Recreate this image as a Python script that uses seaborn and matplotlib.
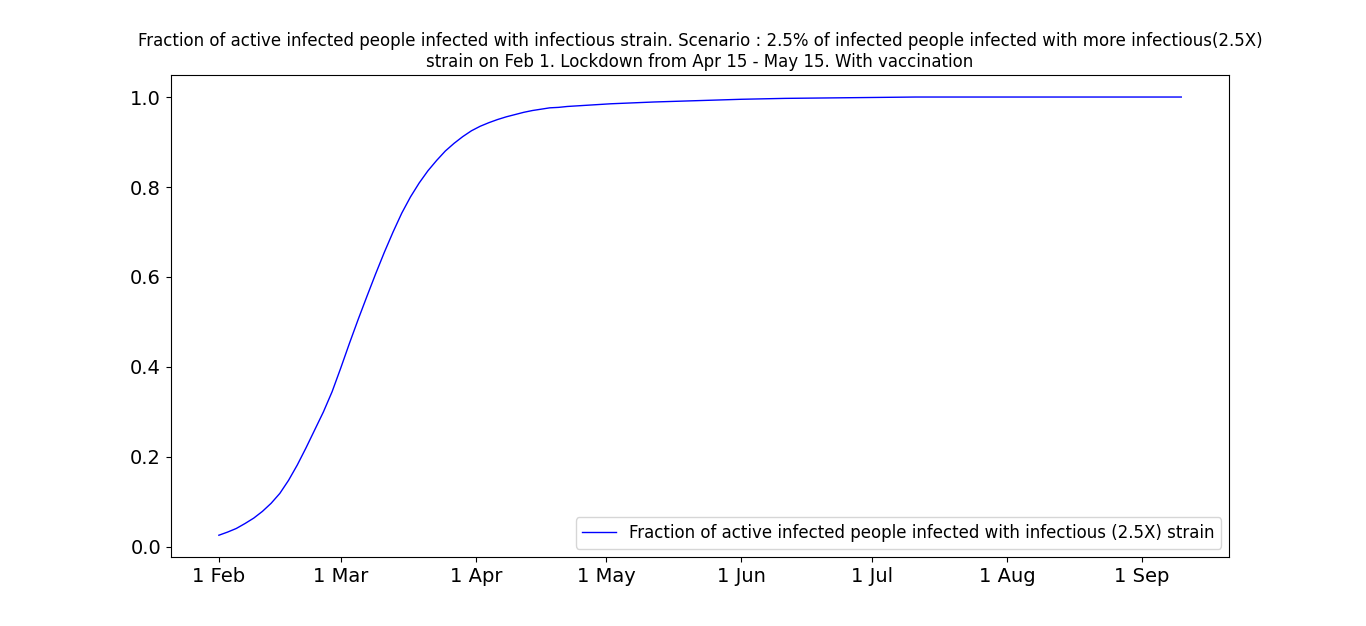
import matplotlib
matplotlib.use("Agg")
import matplotlib.pyplot as plt
import matplotlib.dates as mdates
import numpy as np
import pandas as pd
import seaborn as sns

start_date = "2021-02-01"
day_offsets = [0, 2, 4, 6, 8, 10, 12, 14, 16, 18, 20, 22, 24, 26, 28, 30, 32, 34, 36,
               38, 40, 42, 44, 46, 48, 50, 52, 54, 56, 58, 60, 62, 64, 66, 68, 70, 72,
               74, 76, 78, 80, 85, 90, 95, 100, 110, 120, 130, 140, 150, 160, 180,
               200, 221]
fraction = [0.026, 0.033, 0.041, 0.052, 0.064, 0.079, 0.097, 0.119, 0.148, 0.182,
            0.220, 0.260, 0.300, 0.345, 0.398, 0.453, 0.506, 0.557, 0.607, 0.655,
            0.700, 0.742, 0.778, 0.809, 0.836, 0.859, 0.880, 0.897, 0.912, 0.925,
            0.935, 0.943, 0.950, 0.956, 0.961, 0.966, 0.970, 0.973, 0.976, 0.977,
            0.979, 0.982, 0.985, 0.987, 0.989, 0.992, 0.995, 0.997, 0.998, 0.999,
            1.0, 1.0, 1.0, 1.0]
label = "Fraction of active infected people infected with infectious (2.5X) strain"
title = ("Fraction of active infected people infected with infectious strain. Scenario : "
         "2.5% of infected people infected with more infectious(2.5X)\n"
         "strain on Feb 1. Lockdown from Apr 15 - May 15. With vaccination")

df = pd.DataFrame({
    "date": pd.to_datetime(start_date) + pd.to_timedelta(day_offsets, unit="D"),
    "fraction": fraction,
})

fig, ax = plt.subplots(figsize=(13.66, 6.26), dpi=100)
sns.lineplot(data=df, x="date", y="fraction", color="blue", linewidth=1, ax=ax, label=label)
ax.set_title(title, fontsize=12)
ax.set_xlabel("")
ax.set_ylabel("")
ax.xaxis.set_major_locator(mdates.MonthLocator())
ax.xaxis.set_major_formatter(mdates.DateFormatter("%-d %b"))
ax.tick_params(axis="both", labelsize=14)
ax.legend(loc="lower right", fontsize=12)
fig.savefig("out.png", dpi=100)
